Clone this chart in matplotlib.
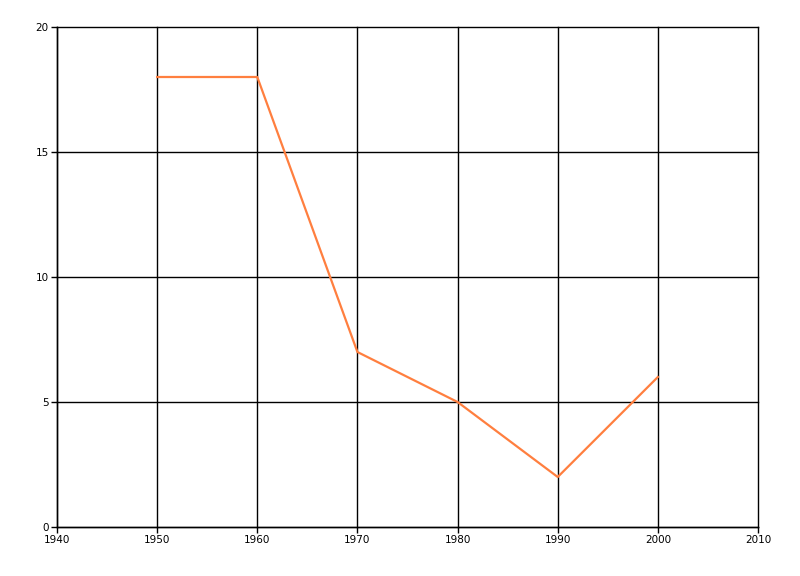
import matplotlib
matplotlib.use("Agg")
import matplotlib.pyplot as plt

years = [1950, 1960, 1970, 1980, 1990, 2000]
values = [18, 18, 7, 5, 2, 6]
x_ticks = [1940, 1950, 1960, 1970, 1980, 1990, 2000, 2010]
y_ticks = [0, 5, 10, 15, 20]

fig = plt.figure(figsize=(8, 5.76), dpi=100)
ax = fig.add_axes([57/800, 1-527/576, (758-57)/800, (527-27)/576])
ax.plot(years, values, color="#FF7F3F", linewidth=1.6, zorder=3)
ax.set_xlim(1940, 2010)
ax.set_ylim(0, 20)
ax.set_xticks(x_ticks)
ax.set_yticks(y_ticks)
ax.grid(True, color="black", linewidth=1)
ax.set_axisbelow(True)
for line in ax.get_xgridlines() + ax.get_ygridlines():
    line.set_clip_on(False)
for s in ["top", "right"]:
    ax.spines[s].set_visible(False)
for s in ["left", "bottom"]:
    ax.spines[s].set_linewidth(1)
ax.tick_params(direction="out", length=4, width=1, labelsize=7.5, pad=2)
fig.savefig("out.png", dpi=100)
